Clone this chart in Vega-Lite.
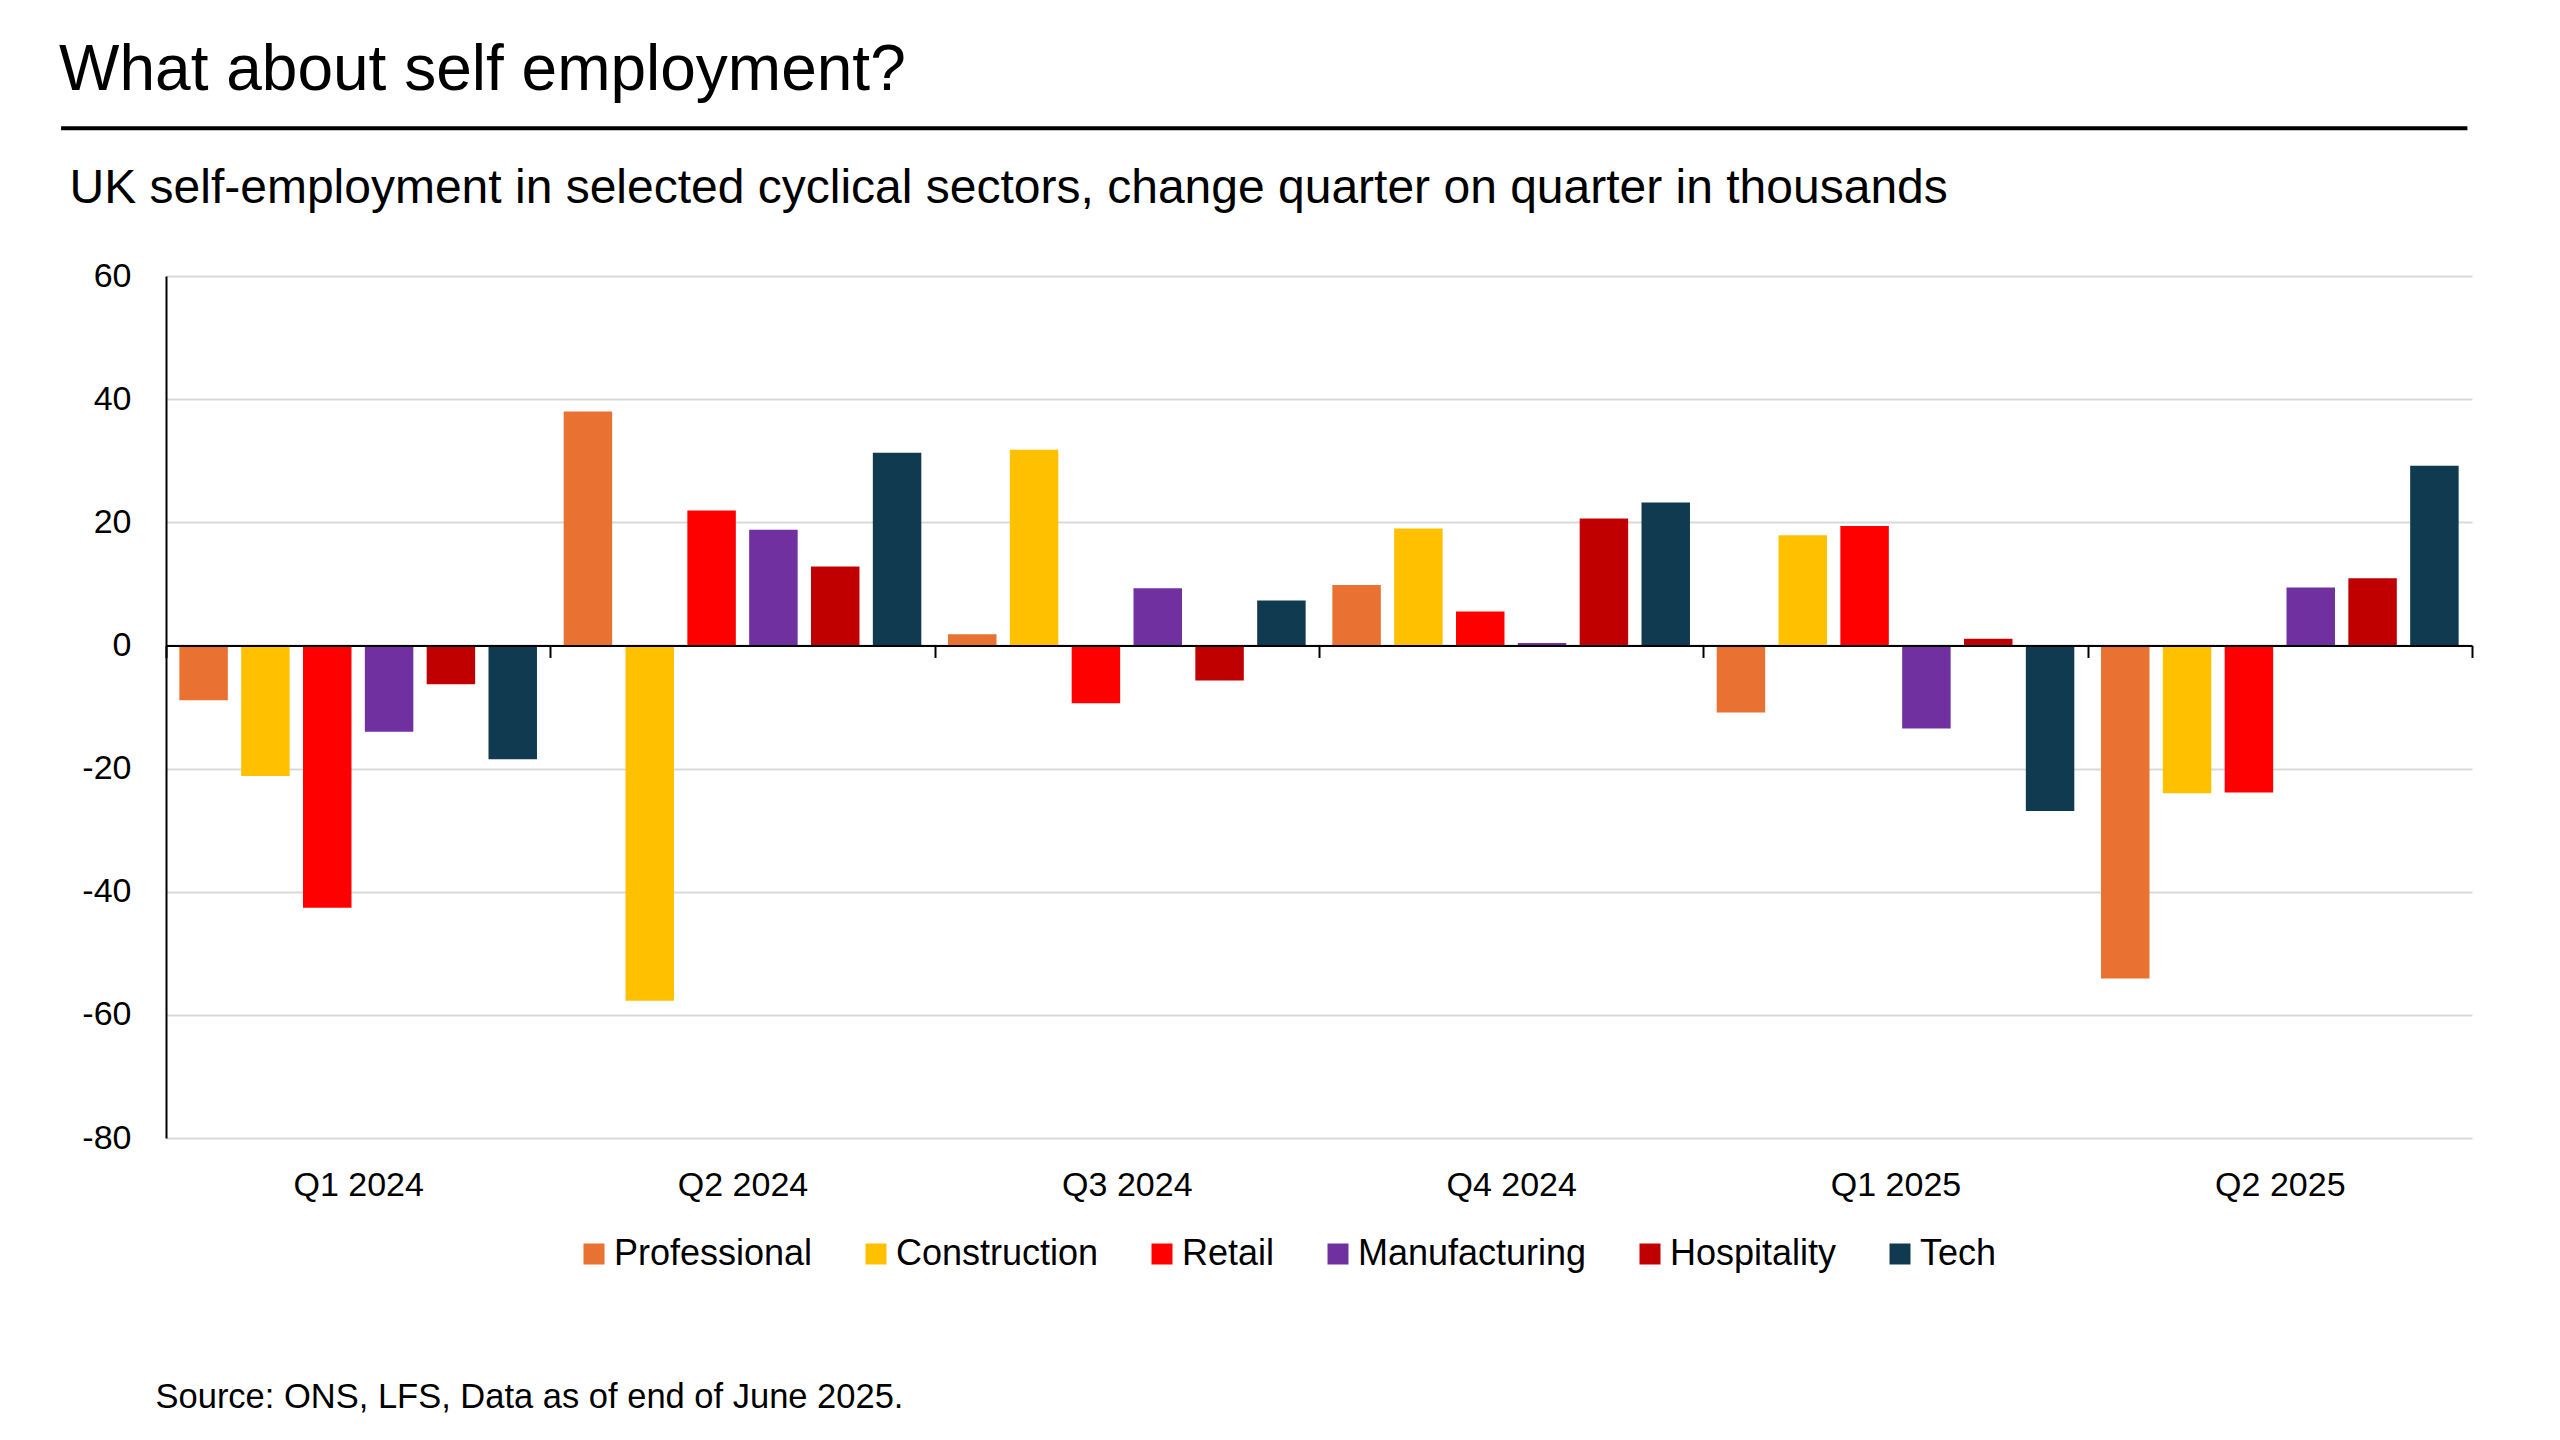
{
  "$schema": "https://vega.github.io/schema/vega-lite/v6.json",
  "width": 2306,
  "height": 862,
  "autosize": {"type": "pad"},
  "padding": {"left": 59, "top": 38, "right": 40, "bottom": 20},
  "background": "white",
  "config": {"font": "Liberation Sans", "view": {"stroke": null}},
  "title": {
    "text": "What about self employment?",
    "anchor": "start",
    "fontSize": 64,
    "fontWeight": "normal",
    "color": "black",
    "font": "Liberation Sans",
    "baseline": "alphabetic",
    "offset": -27.5
  },
  "data": {
    "values": [
      {"quarter": "Q1 2024", "sector": "Professional", "value": -8.9},
      {"quarter": "Q1 2024", "sector": "Construction", "value": -21.2},
      {"quarter": "Q1 2024", "sector": "Retail", "value": -42.6},
      {"quarter": "Q1 2024", "sector": "Manufacturing", "value": -14.0},
      {"quarter": "Q1 2024", "sector": "Hospitality", "value": -6.3},
      {"quarter": "Q1 2024", "sector": "Tech", "value": -18.5},
      {"quarter": "Q2 2024", "sector": "Professional", "value": 38.0},
      {"quarter": "Q2 2024", "sector": "Construction", "value": -57.7},
      {"quarter": "Q2 2024", "sector": "Retail", "value": 21.9},
      {"quarter": "Q2 2024", "sector": "Manufacturing", "value": 18.8},
      {"quarter": "Q2 2024", "sector": "Hospitality", "value": 12.8},
      {"quarter": "Q2 2024", "sector": "Tech", "value": 31.3},
      {"quarter": "Q3 2024", "sector": "Professional", "value": 1.8},
      {"quarter": "Q3 2024", "sector": "Construction", "value": 31.8},
      {"quarter": "Q3 2024", "sector": "Retail", "value": -9.4},
      {"quarter": "Q3 2024", "sector": "Manufacturing", "value": 9.3},
      {"quarter": "Q3 2024", "sector": "Hospitality", "value": -5.7},
      {"quarter": "Q3 2024", "sector": "Tech", "value": 7.3},
      {"quarter": "Q4 2024", "sector": "Professional", "value": 9.8},
      {"quarter": "Q4 2024", "sector": "Construction", "value": 19.0},
      {"quarter": "Q4 2024", "sector": "Retail", "value": 5.5},
      {"quarter": "Q4 2024", "sector": "Manufacturing", "value": 0.4},
      {"quarter": "Q4 2024", "sector": "Hospitality", "value": 20.6},
      {"quarter": "Q4 2024", "sector": "Tech", "value": 23.2},
      {"quarter": "Q1 2025", "sector": "Professional", "value": -10.9},
      {"quarter": "Q1 2025", "sector": "Construction", "value": 17.9},
      {"quarter": "Q1 2025", "sector": "Retail", "value": 19.4},
      {"quarter": "Q1 2025", "sector": "Manufacturing", "value": -13.5},
      {"quarter": "Q1 2025", "sector": "Hospitality", "value": 1.1},
      {"quarter": "Q1 2025", "sector": "Tech", "value": -26.9},
      {"quarter": "Q2 2025", "sector": "Professional", "value": -54.1},
      {"quarter": "Q2 2025", "sector": "Construction", "value": -24.0},
      {"quarter": "Q2 2025", "sector": "Retail", "value": -23.9},
      {"quarter": "Q2 2025", "sector": "Manufacturing", "value": 9.4},
      {"quarter": "Q2 2025", "sector": "Hospitality", "value": 10.9},
      {"quarter": "Q2 2025", "sector": "Tech", "value": 29.2}
    ]
  },
  "resolve": {
    "scale": {"x": "independent"},
    "axis": {"x": "independent", "y": "independent"}
  },
  "layer": [
    {
      "mark": {"type": "bar"},
      "encoding": {
        "x": {
          "field": "quarter",
          "type": "nominal",
          "sort": ["Q1 2024", "Q2 2024", "Q3 2024", "Q4 2024", "Q1 2025", "Q2 2025"],
          "scale": {"paddingInner": 0, "paddingOuter": 0},
          "axis": {
            "orient": "bottom",
            "offset": -492.57,
            "zindex": 1,
            "domain": true,
            "domainColor": "black",
            "domainWidth": 2,
            "ticks": true,
            "tickBand": "extent",
            "tickColor": "black",
            "tickWidth": 2,
            "tickSize": 12,
            "grid": false,
            "labelAngle": 0,
            "labelFontSize": 34,
            "labelColor": "black",
            "labelPadding": 511,
            "title": "Source: ONS, LFS, Data as of end of June 2025.",
            "titleFontSize": 34.5,
            "titleFontWeight": "normal",
            "titleColor": "black",
            "titleAnchor": "start",
            "titleAlign": "left",
            "titleBaseline": "alphabetic",
            "titleX": -11,
            "titleY": 762
          }
        },
        "xOffset": {
          "field": "sector",
          "type": "nominal",
          "sort": ["Professional", "Construction", "Retail", "Manufacturing", "Hospitality", "Tech"],
          "scale": {"paddingInner": 0.216, "paddingOuter": 0.216}
        },
        "y": {
          "field": "value",
          "type": "quantitative",
          "scale": {"domain": [-80, 60], "nice": false, "zero": false},
          "axis": {
            "values": [-80, -60, -40, -20, 0, 20, 40, 60],
            "labelExpr": "datum.value + ''",
            "zindex": 0,
            "ticks": false,
            "domain": true,
            "domainColor": "black",
            "domainWidth": 2,
            "grid": true,
            "gridColor": "#D9D9D9",
            "gridWidth": 2,
            "labelFontSize": 34,
            "labelColor": "black",
            "labelPadding": 35,
            "title": "UK self-employment in selected cyclical sectors, change quarter on quarter in thousands",
            "titleAngle": 0,
            "titleAlign": "left",
            "titleBaseline": "alphabetic",
            "titleFontSize": 48,
            "titleFontWeight": "normal",
            "titleColor": "black",
            "titleX": -97,
            "titleY": -74
          }
        },
        "color": {
          "field": "sector",
          "type": "nominal",
          "sort": ["Professional", "Construction", "Retail", "Manufacturing", "Hospitality", "Tech"],
          "scale": {
            "domain": ["Professional", "Construction", "Retail", "Manufacturing", "Hospitality", "Tech"],
            "range": ["#E97132", "#FFC000", "#FF0000", "#7030A0", "#C00000", "#0F3A50"]
          },
          "legend": {
            "orient": "none",
            "legendX": 410,
            "legendY": 960,
            "direction": "horizontal",
            "title": null,
            "padding": 0,
            "symbolType": "square",
            "symbolSize": 441,
            "symbolStrokeWidth": 0,
            "symbolOpacity": 1,
            "labelFontSize": 36,
            "labelColor": "black",
            "labelOffset": 2,
            "columnPadding": 45,
            "labelLimit": 0
          }
        }
      }
    },
    {
      "data": {"values": [{}]},
      "mark": {"type": "rule", "clip": false, "color": "black", "strokeWidth": 4},
      "encoding": {
        "x": {"datum": -0.0455, "type": "quantitative", "scale": {"domain": [0, 1], "nice": false, "zero": false}, "axis": null},
        "x2": {"datum": 0.998},
        "y": {"datum": 84, "type": "quantitative", "scale": {"domain": [-80, 60], "nice": false, "zero": false}, "axis": null}
      }
    }
  ]
}
